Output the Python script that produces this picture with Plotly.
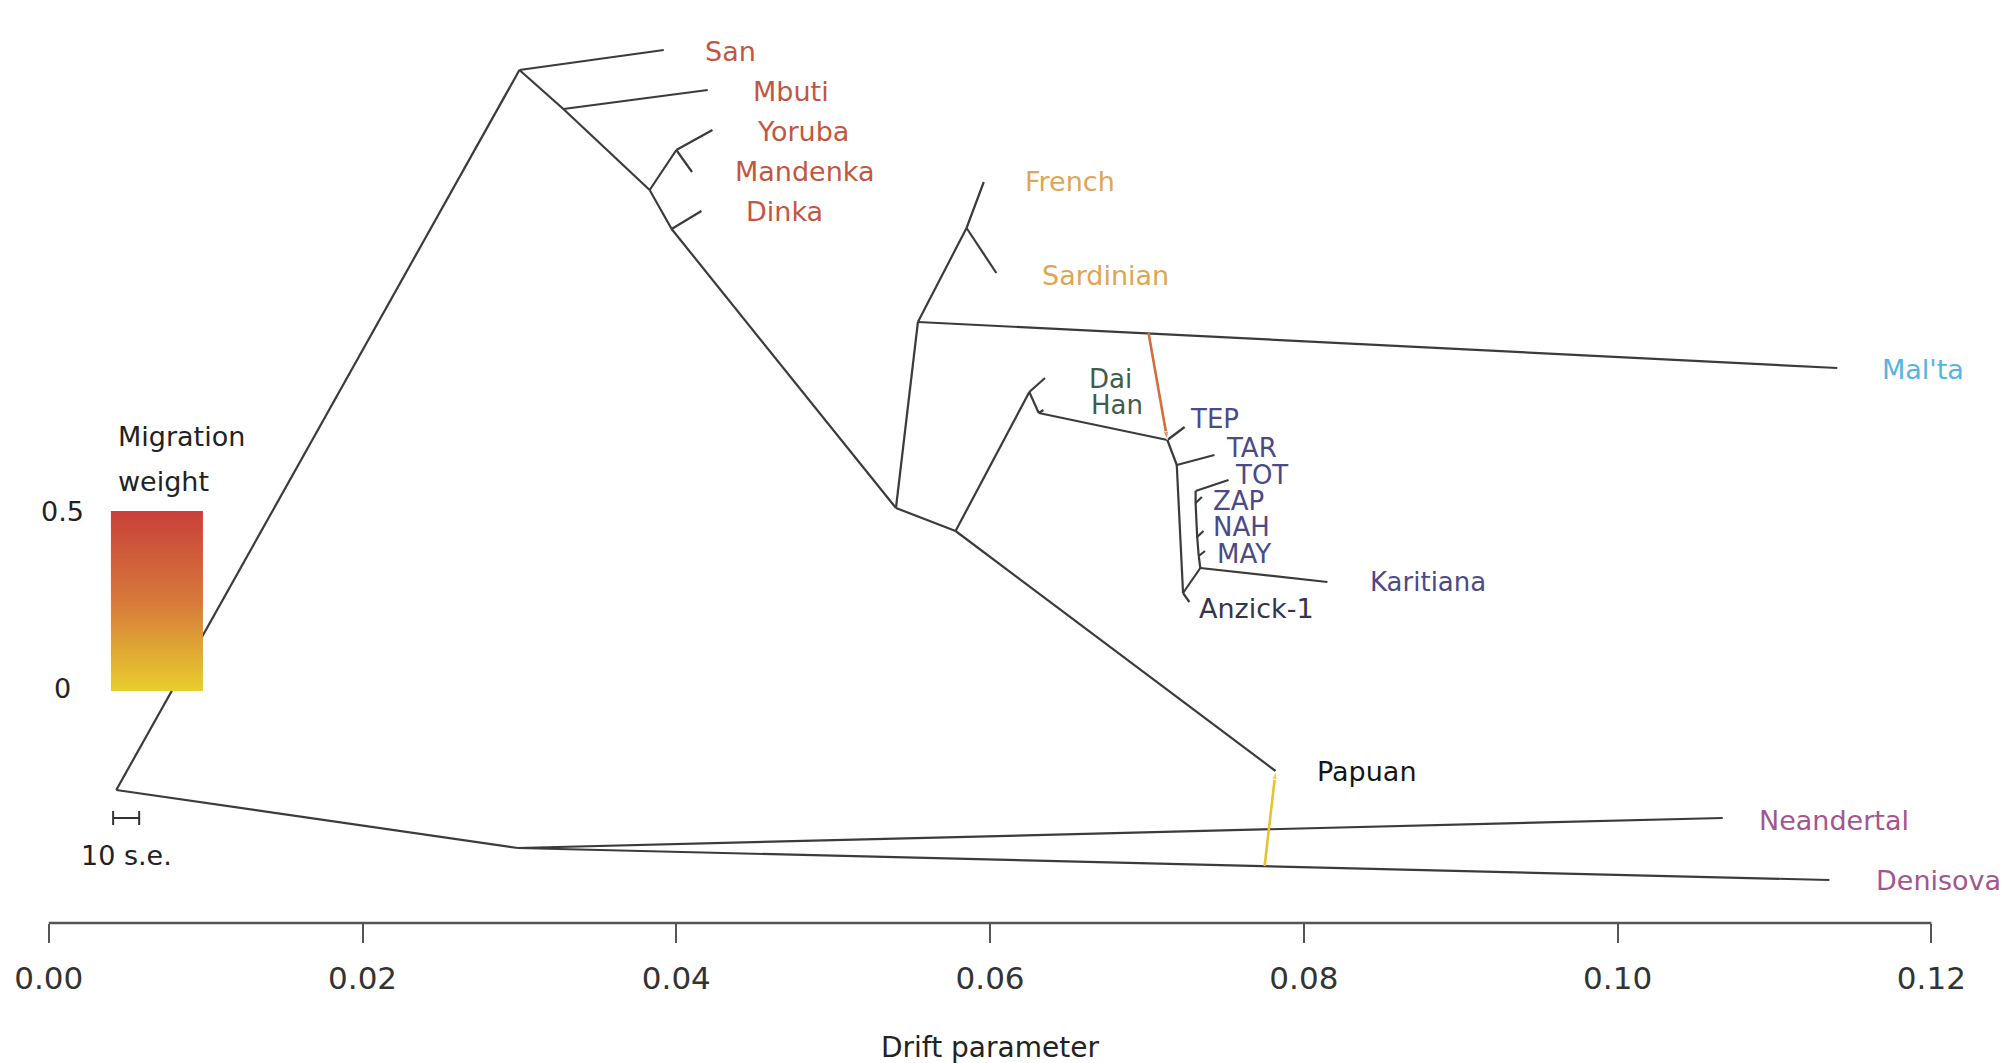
import plotly.graph_objects as go
from plotly.colors import sample_colorscale
import numpy as np

# ---------------- data ----------------
# tree nodes: name, drift (x), vertical layout position (y, arbitrary units top->bottom)
node_names = ["R", "M", "San", "MBn", "Mbuti", "M2", "YM", "Yoruba", "Mandenka", "DKn", "Dinka",
              "NA", "WE", "EU", "French", "Sardinian", "Malta", "E", "Papuan", "EA", "Dai", "HNn", "Han",
              "Am", "TEP", "TARn", "TAR", "AZn", "Anzick", "KAn", "Karitiana", "MAYn", "MAY", "NAHn", "NAH",
              "ZAPn", "ZAP", "TOTn", "TOT", "A", "Neandertal", "Denisova"]
node_x = [0.0043, 0.0300, 0.0392, 0.0328, 0.0420, 0.0383, 0.0400, 0.0423, 0.0410, 0.0397, 0.0416,
          0.0540, 0.0554, 0.0585, 0.0596, 0.0604, 0.1140, 0.0578, 0.0782, 0.0625, 0.0635, 0.0631, 0.0634,
          0.0713, 0.0724, 0.0719, 0.0743, 0.0723, 0.0727, 0.0734, 0.0815, 0.0733, 0.0737, 0.0732, 0.0736,
          0.0731, 0.0735, 0.0731, 0.0752, 0.0299, 0.1067, 0.1135]
node_y = [790, 70, 50, 109, 90, 190, 150, 130, 172, 229, 211,
          508, 322, 228, 182, 273, 368, 531, 771, 392, 378, 413, 410,
          440, 427, 465, 455, 593, 602, 568, 582, 556, 551, 537, 531,
          503, 497, 491, 480, 848, 818, 880]

edge_parent = ["R", "R", "A", "A", "M", "M", "MBn", "MBn", "M2", "YM", "YM", "M2", "DKn", "DKn",
               "NA", "WE", "EU", "EU", "WE", "NA", "E", "E", "EA", "EA", "HNn", "HNn",
               "Am", "Am", "TARn", "TARn", "AZn", "AZn", "KAn", "KAn", "MAYn", "MAYn", "NAHn", "NAHn",
               "ZAPn", "ZAPn", "TOTn"]
edge_child = ["M", "A", "Neandertal", "Denisova", "San", "MBn", "Mbuti", "M2", "YM", "Yoruba", "Mandenka",
              "DKn", "Dinka", "NA", "WE", "EU", "French", "Sardinian", "Malta", "E", "Papuan", "EA",
              "Dai", "HNn", "Han", "Am", "TEP", "TARn", "TAR", "AZn", "Anzick", "KAn", "Karitiana",
              "MAYn", "MAY", "NAHn", "NAH", "ZAPn", "ZAP", "TOTn", "TOT"]

# migration edges (source point on a branch -> target node) and weights
mig_from_x = [0.0701, 0.0775]
mig_from_y = [333, 866]
mig_to = ["Am", "Papuan"]
mig_weight = [0.30, 0.03]

# population labels
pop_labels = ["San", "Mbuti", "Yoruba", "Mandenka", "Dinka", "French", "Sardinian", "Mal'ta",
              "Dai", "Han", "TEP", "TAR", "TOT", "ZAP", "NAH", "MAY", "Karitiana", "Anzick-1",
              "Papuan", "Neandertal", "Denisova"]
label_x = [0.04177, 0.04482, 0.04508, 0.04368, 0.04438, 0.06216, 0.06325, 0.11680,
           0.06624, 0.06637, 0.07268, 0.07498, 0.07555, 0.07415, 0.07415, 0.07440, 0.08415, 0.07325,
           0.08077, 0.10895, 0.11641]
label_y = [51, 91, 131, 171, 211, 181, 275, 369,
           379, 405, 419, 448, 475, 501, 527, 554, 582, 608,
           771, 820, 880]
label_group = ["africa"] * 5 + ["europe"] * 2 + ["malta"] + ["eastasia"] * 2 + ["america"] * 7 + ["anzick"] + \
              ["papuan"] + ["archaic"] * 2

tick_vals = [0.00, 0.02, 0.04, 0.06, 0.08, 0.10, 0.12]
tick_text = ["0.00", "0.02", "0.04", "0.06", "0.08", "0.10", "0.12"]

weight_range = [0, 0.5]
se_length = 0.00166   # 10 standard errors in drift units

# ---------------- styling ----------------
group_color = {"africa": "#c4563f", "europe": "#dfa553", "malta": "#52b6de", "eastasia": "#3d5d4a",
               "america": "#4b4a87", "anzick": "#35354a", "papuan": "#151515", "archaic": "#a2568f"}
group_size = {"africa": 27, "europe": 27, "malta": 27, "eastasia": 26, "america": 26,
              "anzick": 27, "papuan": 27, "archaic": 27}
mig_scale = [[0.0, "#e8cd2e"], [0.5, "#d7793a"], [1.0, "#c8413a"]]
FONT = "DejaVu Sans"
X_RANGE = [-0.003111, 0.125331]
Y_RANGE = [923, 0]

pos = {n: (x, y) for n, x, y in zip(node_names, node_x, node_y)}

fig = go.Figure()

# tree edges
ex, ey = [], []
for p, c in zip(edge_parent, edge_child):
    ex += [pos[p][0], pos[c][0], None]
    ey += [pos[p][1], pos[c][1], None]
fig.add_trace(go.Scatter(x=ex, y=ey, mode="lines", line=dict(color="#3b3b3b", width=2.2),
                         hoverinfo="skip", showlegend=False))

# migration edges
for fx, fy, t, w in zip(mig_from_x, mig_from_y, mig_to, mig_weight):
    col = sample_colorscale(mig_scale, [(w - weight_range[0]) / (weight_range[1] - weight_range[0])])[0]
    fig.add_trace(go.Scatter(x=[fx, pos[t][0]], y=[fy, pos[t][1]], mode="lines+markers",
                             line=dict(color=col, width=2.6),
                             marker=dict(symbol="arrow", angleref="previous", size=[0, 9], color=col),
                             hoverinfo="skip", showlegend=False))

# scale bar (10 s.e.)
se_x0 = 0.0041
fig.add_trace(go.Scatter(x=[se_x0, se_x0 + se_length], y=[818, 818], mode="lines+markers",
                         line=dict(color="#333", width=2),
                         marker=dict(symbol="line-ns-open", size=10, line=dict(color="#333", width=2)),
                         hoverinfo="skip", showlegend=False))

# migration weight colour key (on an overlay axis so it sits above the tree lines)
n_steps = 60
key_y_edges = np.linspace(691, 511, n_steps + 1)
key_z = [[v] for v in np.linspace(weight_range[0], weight_range[1], n_steps)]
fig.add_trace(go.Heatmap(x=[0.00396, 0.00983], y=key_y_edges, z=key_z, colorscale=mig_scale,
                         zmin=weight_range[0], zmax=weight_range[1], showscale=False, hoverinfo="skip",
                         xaxis="x2", yaxis="y2"))

annotations = []
for t, x, y, g in zip(pop_labels, label_x, label_y, label_group):
    annotations.append(dict(x=x, y=y, xref="x", yref="y", text=t, showarrow=False, xanchor="left",
                            yanchor="middle", borderpad=0,
                            font=dict(family=FONT, size=group_size[g], color=group_color[g])))

annotations += [
    dict(x=0.00430, y=436, xref="x", yref="y", text="Migration", showarrow=False, xanchor="left",
         font=dict(family=FONT, size=27, color="#222")),
    dict(x=0.00430, y=481, xref="x", yref="y", text="weight", showarrow=False, xanchor="left",
         font=dict(family=FONT, size=27, color="#222")),
    dict(x=0.00085, y=511, xref="x", yref="y", text="0.5", showarrow=False, xanchor="center",
         font=dict(family=FONT, size=27, color="#222")),
    dict(x=0.00085, y=688, xref="x", yref="y", text="0", showarrow=False, xanchor="center",
         font=dict(family=FONT, size=27, color="#222")),
    dict(x=se_x0 + se_length / 2, y=855, xref="x", yref="y", text="10 s.e.", showarrow=False,
         xanchor="center", font=dict(family=FONT, size=27, color="#222")),
    dict(x=0.06, y=-(1047 - 923) / 923, xref="x", yref="paper", text="Drift parameter", showarrow=False,
         xanchor="center", yanchor="middle", font=dict(family=FONT, size=28, color="#222")),
]

fig.update_layout(
    width=2015, height=1063,
    margin=dict(l=0, r=0, t=0, b=140),
    paper_bgcolor="white", plot_bgcolor="white",
    xaxis=dict(range=X_RANGE, tickvals=tick_vals, ticktext=tick_text, ticks="outside", ticklen=19,
               tickwidth=2, tickcolor="#555", showline=False, showgrid=False, zeroline=False,
               tickfont=dict(family=FONT, size=31, color="#333"), ticklabelstandoff=9),
    yaxis=dict(range=Y_RANGE, visible=False, showgrid=False, zeroline=False),
    xaxis2=dict(range=X_RANGE, overlaying="x", visible=False),
    yaxis2=dict(range=Y_RANGE, overlaying="y", visible=False),
    shapes=[dict(type="line", xref="x", yref="paper", x0=tick_vals[0], x1=tick_vals[-1], y0=0, y1=0,
                 line=dict(color="#555", width=2.5))],
    annotations=annotations,
    showlegend=False,
)

fig.write_html("out.html", config={"displayModeBar": False},
               post_script="document.body.style.margin='0px';document.body.style.overflow='hidden';")
